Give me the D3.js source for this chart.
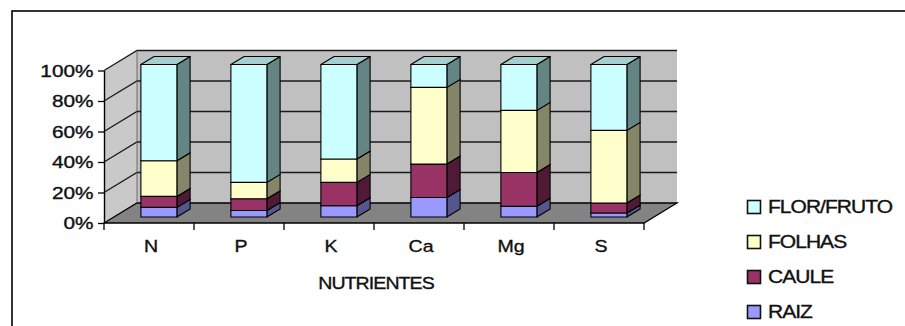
<!DOCTYPE html>
<html>
<head>
<meta charset="utf-8">
<script src="https://cdn.jsdelivr.net/npm/d3@7"></script>
<style>
  html, body { margin: 0; padding: 0; background: #fff; }
  svg { display: block; }
  text { font-family: "Liberation Sans", Arial, sans-serif; fill: #111; stroke: #111; stroke-width: 0.35px; }
</style>
</head>
<body>
<svg id="chart" width="905" height="326"></svg>
<script>
// Nutrient distribution among plant organs (share of total, %)
const categories = ["N", "P", "K", "Ca", "Mg", "S"];
const seriesNames = ["RAIZ", "CAULE", "FOLHAS", "FLOR/FRUTO"];
const raiz      = [6.3, 4.3, 7.4, 12.8, 7.0, 2.6];
const caule     = [7.2, 7.7, 15.3, 21.9, 22.2, 6.6];
const folhas    = [23.4, 10.7, 15.3, 50.3, 40.7, 47.6];
const florFruto = [63.1, 77.3, 62.0, 15.0, 30.1, 43.2];
const yTicks = [0, 20, 40, 60, 80, 100];
const xTitle = "NUTRIENTES";

const seriesValues = [raiz, caule, folhas, florFruto];
const frontCol = ["#9999FF", "#993366", "#FFFFCC", "#CCFFFF"];
const sideCol  = ["#56568F", "#4F1A35", "#858569", "#658585"];
const topCol   = ["#7A7ACC", "#7A2952", "#CCCCA3", "#A3CFCF"];

const svg = d3.select("#chart");

// outer frame
svg.append("rect").attr("x", 12).attr("y", 11).attr("width", 920).attr("height", 340)
  .attr("fill", "none").attr("stroke", "#000").attr("stroke-width", 1.6);

// front plane geometry and depth projection
const x0 = 104, x1 = 644;
const DX = 33, DY = 20;
const y = d3.scaleLinear().domain([0, 100]).range([223, 70.5]);
const x = d3.scaleBand().domain(categories).range([x0, x1]).padding(0);
const P = (px, v, z) => [px + DX * z, y(v) - DY * z];

const g = svg.append("g");

// walls and floor
const poly = pts => "M" + pts.map(p => p.join(",")).join("L") + "Z";
g.append("path")
  .attr("d", poly([P(x0, 0, 1), P(x1, 0, 1), P(x1, 100, 1), P(x0, 100, 1)]))
  .attr("fill", "#C0C0C0");
g.append("path")
  .attr("d", poly([P(x0, 0, 0), P(x0, 0, 1), P(x0, 100, 1), P(x0, 100, 0)]))
  .attr("fill", "#C9C9C9");
g.append("path")
  .attr("d", poly([P(x0, 0, 0), P(x1, 0, 0), P(x1, 0, 1), P(x0, 0, 1)]))
  .attr("fill", "#838383").attr("stroke", "#000").attr("stroke-width", 1.3);

// gridlines on left and back walls
yTicks.filter(t => t > 0).forEach(t => {
  const a = P(x0, t, 0), b = P(x0, t, 1), c = P(x1, t, 1);
  g.append("path").attr("d", `M${a}L${b}L${c}`)
    .attr("fill", "none").attr("stroke", "#1a1a1a").attr("stroke-width", 1.3);
});
// wall edge
g.append("path").attr("d", `M${P(x0, 0, 1)}L${P(x0, 100, 1)}`)
  .attr("stroke", "#555").attr("stroke-width", 0.8);

// stacked 3D bars
const bw = x.bandwidth() / 2.5;
const zf = 0.3, zb = 0.7;
categories.forEach((c, i) => {
  let base = 0;
  seriesValues.forEach((vals, s) => {
    const v0 = base, v1 = base + vals[i];
    base = v1;
    const L = x(c) + (x.bandwidth() - bw) / 2, R = L + bw;
    const frontFace = [P(L, v0, zf), P(R, v0, zf), P(R, v1, zf), P(L, v1, zf)];
    const sideFace = [P(R, v0, zf), P(R, v0, zb), P(R, v1, zb), P(R, v1, zf)];
    const topFace = [P(L, v1, zf), P(R, v1, zf), P(R, v1, zb), P(L, v1, zb)];
    [[sideFace, sideCol[s]], [topFace, topCol[s]], [frontFace, frontCol[s]]].forEach(([f, col]) => {
      g.append("path").attr("d", poly(f)).attr("fill", col)
        .attr("stroke", "#000").attr("stroke-width", 1.1).attr("stroke-linejoin", "round");
    });
  });
});

// value axis
const yAxis = d3.axisLeft(y).tickValues(yTicks).tickSize(6).tickSizeOuter(0)
  .tickFormat(d => d + "%");
const ya = svg.append("g").attr("transform", `translate(${x0},0)`).call(yAxis);
ya.select(".domain").attr("stroke", "#000").attr("stroke-width", 1.4);
ya.selectAll(".tick line").attr("stroke", "#000").attr("stroke-width", 1.3);
ya.selectAll(".tick text").attr("x", null).attr("dy", null)
  .style("font-size", "16px").attr("fill", "#111")
  .attr("text-anchor", "end").attr("dominant-baseline", "central")
  .attr("transform", "translate(-10.5,0) scale(1.3,1)");

// category axis: boundary ticks and centred labels
const xb = svg.append("g");
d3.range(categories.length + 1).forEach(k => {
  const px = x0 + k * x.step();
  xb.append("line").attr("x1", px).attr("x2", px).attr("y1", y(0)).attr("y2", y(0) + 7)
    .attr("stroke", "#000").attr("stroke-width", 1.3);
});
const xAxis = d3.axisBottom(x).tickSize(0).tickPadding(0);
const xa = svg.append("g").attr("transform", `translate(2,${y(0)})`).call(xAxis);
xa.select(".domain").remove();
xa.selectAll(".tick text").attr("dy", null).attr("y", 29)
  .style("font-size", "17px").attr("fill", "#111")
  .attr("transform", "scale(1.15,1)");

svg.append("text").attr("transform", `translate(${(x0 + x1) / 2 + 2},289) scale(1.15,1)`)
  .attr("text-anchor", "middle").style("font-size", "17px").style("letter-spacing", "-0.8px")
  .text(xTitle);

// legend (top to bottom: last series first)
const legend = svg.append("g");
[3, 2, 1, 0].forEach((s, k) => {
  const cy = 207 + k * 35;
  legend.append("rect").attr("x", 747.5).attr("y", cy - 6.5).attr("width", 13).attr("height", 13)
    .attr("fill", frontCol[s]).attr("stroke", "#111").attr("stroke-width", 1.6);
  legend.append("text").attr("transform", `translate(768,${cy}) scale(1.2,1)`)
    .attr("dominant-baseline", "central").style("font-size", "17.5px")
    .style("letter-spacing", "-0.8px").text(seriesNames[s]);
});
</script>
</body>
</html>
